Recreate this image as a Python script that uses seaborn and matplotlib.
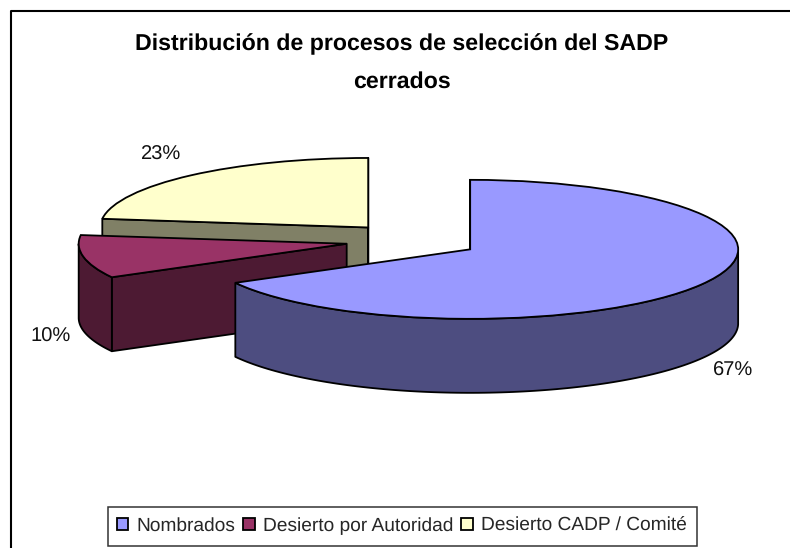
import matplotlib
matplotlib.use("Agg")
import matplotlib.pyplot as plt
from matplotlib.patches import Polygon, Rectangle
from matplotlib.lines import Line2D
import numpy as np
import seaborn as sns

categories = ["Nombrados", "Desierto por Autoridad", "Desierto CADP / Comité"]
shares = [67, 10, 23]
top_colors = ["#9999FF", "#993366", "#FFFFCC"]
side_colors = ["#4D4D80", "#4D1A33", "#808066"]
title_lines = ["Distribución de procesos de selección del SADP", "cerrados"]
label_px = [(733.5, 370.5), (50.5, 336.5), (161.5, 154.5)]

W, H = 790, 548
# pie geometry in pixels: ellipse radii, centre, wall height
RX, RY, CX, CY, DEPTH = 268, 69.5, 412.5, 240.5, 74
LW = 1.3

sns.set_style("white")
plt.rcParams["font.family"] = ["Liberation Sans", "DejaVu Sans"]
plt.rcParams["text.hinting"] = "none"
palette = sns.color_palette(top_colors)

fig = plt.figure(figsize=(W / 100, H / 100), dpi=100)
ax = fig.add_axes([0, 0, 1, 1])
wedges, _ = ax.pie(shares, explode=[0.25] * 3, colors=palette, startangle=90, counterclock=False,
                   wedgeprops={"edgecolor": "black", "linewidth": LW})
ax.set_aspect("auto")
ax.set_xlim(-CX / RX, (W - CX) / RX)
ax.set_ylim((CY - H) / RY, CY / RY)
depth = DEPTH / RY


def wall(points, color, z):
    points = np.array(points)
    lower = points[::-1] - [0, depth]
    ax.add_patch(Polygon(np.vstack([points, lower]), closed=True, facecolor=color, edgecolor="black",
                         linewidth=LW, joinstyle="round", zorder=z))


# back to front: yellow, red, blue
for i in [2, 1, 0]:
    w = wedges[i]
    z = 2 + (2 - i) * 2
    c = np.array(w.center)
    t = np.radians(np.linspace(w.theta1, w.theta2, 200))
    arc = c + np.column_stack([np.cos(t), np.sin(t)]) * w.r
    # only surfaces facing the viewer get a wall
    if arc[-1, 0] < c[0]:
        wall([c, arc[-1]], side_colors[i], z)
    if arc[0, 0] > c[0]:
        wall([arc[0], c], side_colors[i], z)
    front = arc[np.sin(t) < 0]
    if len(front) > 1:
        wall(front, side_colors[i], z)
    w.set_zorder(z + 1)

# chart border only shows on the top and left
fig.add_artist(Line2D([11 / W, 11 / W, 1], [0, 1 - 11 / H, 1 - 11 / H], transform=fig.transFigure,
                      color="black", linewidth=1.5))

fig.text(401.5 / W, 1 - 44 / H, title_lines[0], ha="center", va="center", fontsize=16.7, fontweight="bold", color="black")
fig.text(401.5 / W, 1 - 82 / H, title_lines[1], ha="center", va="center", fontsize=16.7, fontweight="bold", color="black")
for share, (px, py) in zip(shares, label_px):
    fig.text(px / W, 1 - py / H, f"{share}%", ha="center", va="center", fontsize=14.5, color="#111111")

# legend box drawn apart, its padding differs sideways and vertically
fig.add_artist(Rectangle((107.5 / W, 1 - 546 / H), 589 / W, 39 / H, transform=fig.transFigure,
                         facecolor="white", edgecolor="#333333", linewidth=1.1))
leg = fig.legend(wedges, categories, loc="center", bbox_to_anchor=(401.5 / W, 1 - 526 / H), ncol=3,
                 fontsize=13.8, frameon=False, handlelength=0.6, handleheight=0.6, handletextpad=0.42,
                 columnspacing=0.42, borderpad=0, borderaxespad=0)

fig.savefig("out.png", dpi=100)
